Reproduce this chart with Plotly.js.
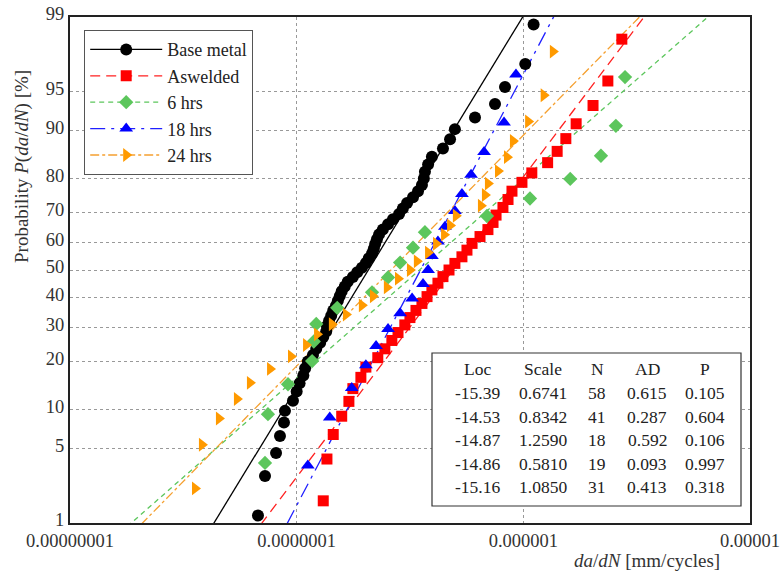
<!DOCTYPE html>
<html><head><meta charset="utf-8">
<script src="https://cdn.plot.ly/plotly-3.0.1.min.js"></script>
<style>html,body{margin:0;padding:0;background:#fff}#chart{width:781px;height:571px}</style>
</head><body><div id="chart"></div>
<script>
// ---- data (x: da/dN in mm/cycle, p: plotting probability in %) ----
const seriesNames = ["Base metal", "Aswelded", "6 hrs", "18 hrs", "24 hrs"];

const baseX = [6.75e-8,7.25e-8,8.11e-8,8.44e-8,8.79e-8,8.88e-8,9.63e-8,1.00e-7,1.03e-7,1.07e-7,
  1.09e-7,1.12e-7,1.18e-7,1.22e-7,1.27e-7,1.31e-7,1.35e-7,1.36e-7,1.39e-7,1.42e-7,
  1.45e-7,1.49e-7,1.52e-7,1.55e-7,1.58e-7,1.63e-7,1.68e-7,1.77e-7,1.85e-7,1.94e-7,
  2.02e-7,2.08e-7,2.15e-7,2.19e-7,2.22e-7,2.26e-7,2.31e-7,2.40e-7,2.53e-7,2.66e-7,
  2.83e-7,2.94e-7,3.07e-7,3.26e-7,3.43e-7,3.57e-7,3.64e-7,3.68e-7,3.80e-7,3.95e-7,
  4.42e-7,4.75e-7,4.99e-7,6.12e-7,7.50e-7,8.30e-7,1.02e-6,1.11e-6];
const baseP = [1.20,2.91,4.62,6.34,8.05,9.76,11.47,13.18,14.90,16.61,18.32,20.03,21.75,23.46,25.17,
  26.88,28.60,30.31,32.02,33.73,35.45,37.16,38.87,40.58,42.29,44.01,45.72,47.43,49.14,50.86,
  52.57,54.28,55.99,57.71,59.42,61.13,62.84,64.55,66.27,67.98,69.69,71.40,73.12,74.83,76.54,
  78.25,79.97,81.68,83.39,85.10,86.82,88.53,90.24,91.95,93.66,95.38,97.09,98.80];

const asweldedX = [1.31e-7,1.36e-7,1.45e-7,1.58e-7,1.70e-7,1.77e-7,1.92e-7,2.02e-7,2.28e-7,2.45e-7,
  2.63e-7,2.80e-7,3.00e-7,3.16e-7,3.36e-7,3.57e-7,3.76e-7,3.95e-7,4.20e-7,4.42e-7,
  4.70e-7,4.99e-7,5.36e-7,5.64e-7,5.94e-7,6.44e-7,6.98e-7,7.35e-7,7.58e-7,8.13e-7,
  8.56e-7,8.91e-7,9.86e-7,1.09e-6,1.28e-6,1.41e-6,1.54e-6,1.71e-6,2.03e-6,2.36e-6,2.72e-6];
const asweldedP = [1.69,4.11,6.52,8.94,11.35,13.77,16.18,18.60,21.01,23.43,25.85,28.26,30.68,33.09,
  35.51,37.92,40.34,42.75,45.17,47.58,50.00,52.42,54.83,57.25,59.66,62.08,64.49,66.91,69.32,
  71.74,74.15,76.57,78.99,81.40,83.82,86.23,88.65,91.06,93.48,95.89,98.31];

const hrs6X = [7.25e-8,7.47e-8,9.16e-8,1.17e-7,1.19e-7,1.22e-7,1.51e-7,2.15e-7,2.53e-7,2.86e-7,
  3.26e-7,3.68e-7,6.91e-7,1.07e-6,1.61e-6,2.20e-6,2.56e-6,2.81e-6];
const hrs6P = [3.80,9.24,14.67,20.11,25.54,30.98,36.41,41.85,47.28,52.72,58.15,63.59,69.02,74.46,
  79.89,85.33,90.76,96.20];

const hrs18X = [1.12e-7,1.40e-7,1.75e-7,2.02e-7,2.24e-7,2.53e-7,2.86e-7,3.23e-7,3.61e-7,3.80e-7,
  3.95e-7,4.20e-7,4.51e-7,4.99e-7,5.36e-7,5.88e-7,6.71e-7,8.22e-7,9.28e-7];
const hrs18P = [3.61,8.76,13.92,19.07,24.23,29.38,34.54,39.69,44.85,50.00,55.15,60.31,65.46,70.62,
  75.77,80.93,86.08,91.24,96.39];

const hrs24X = [3.56e-8,3.82e-8,4.54e-8,5.45e-8,6.22e-8,7.63e-8,9.44e-8,1.10e-7,1.23e-7,1.43e-7,
  1.65e-7,1.94e-7,2.17e-7,2.50e-7,2.80e-7,3.16e-7,3.39e-7,3.80e-7,4.12e-7,4.47e-7,
  4.75e-7,5.04e-7,6.50e-7,6.77e-7,6.98e-7,7.73e-7,8.47e-7,9.00e-7,1.05e-6,1.23e-6,1.35e-6];
const hrs24P = [2.23,5.41,8.60,11.78,14.97,18.15,21.34,24.52,27.71,30.89,34.08,37.26,40.45,43.63,
  46.82,50.00,53.18,56.37,59.55,62.74,65.92,69.11,72.29,75.48,78.66,81.85,85.03,88.22,91.40,
  94.59,97.77];

// fitted lognormal parameters (table)
const fitLoc = [-15.39, -14.53, -14.87, -14.86, -15.16];
const fitScale = [0.6741, 0.8342, 1.2590, 0.5810, 1.0850];
const tableHeader = ["Loc", "Scale", "N", "AD", "P"];
const colLoc = ["-15.39", "-14.53", "-14.87", "-14.86", "-15.16"];
const colScale = ["0.6741", "0.8342", "1.2590", "0.5810", "1.0850"];
const colN = ["58", "41", "18", "19", "31"];
const colAD = ["0.615", "0.287", "0.592", "0.093", "0.413"];
const colPval = ["0.105", "0.604", "0.106", "0.997", "0.318"];

// axis ticks
const probTicks = [1, 5, 10, 20, 30, 40, 50, 60, 70, 80, 90, 95, 99];
const xTickVals = [1e-8, 1e-7, 1e-6, 1e-5];
const xTickText = ["0.00000001", "0.0000001", "0.000001", "0.00001"];

// ---- styles ----
const colors = ["#000000", "#ff0000", "#5cc65c", "#0000ff", "#ff9a00"];
const lineColors = ["#000000", "#ff2020", "#5cc65c", "#2020ff", "#f5a030"];
const symbols = ["circle", "square", "diamond", "triangle-up", "triangle-right"];
const msizes = [12, 11, 11, 12, 12];
const dashes = ["solid", "10px,6px", "5px,4px", "longdashdot", "dashdot"];

// probability scale: inverse standard normal CDF (Acklam)
function norminv(p) {
  const a=[-3.969683028665376e+01,2.209460984245205e+02,-2.759285104469687e+02,1.383577518672690e+02,-3.066479806614716e+01,2.506628277459239e+00];
  const b=[-5.447609879822406e+01,1.615858368580409e+02,-1.556989798598866e+02,6.680131188771972e+01,-1.328068155288572e+01];
  const c=[-7.784894002430293e-03,-3.223964580411365e-01,-2.400758277161838e+00,-2.549732539343734e+00,4.374664141464968e+00,2.938163982698783e+00];
  const d=[7.784695709041462e-03,3.224671290700398e-01,2.445134137142996e+00,3.754408661907416e+00];
  const pl = 0.02425, ph = 1 - pl; let q, r;
  if (p < pl) { q = Math.sqrt(-2*Math.log(p)); return (((((c[0]*q+c[1])*q+c[2])*q+c[3])*q+c[4])*q+c[5])/((((d[0]*q+d[1])*q+d[2])*q+d[3])*q+1); }
  if (p <= ph) { q = p - 0.5; r = q*q; return (((((a[0]*r+a[1])*r+a[2])*r+a[3])*r+a[4])*r+a[5])*q/(((((b[0]*r+b[1])*r+b[2])*r+b[3])*r+b[4])*r+1); }
  q = Math.sqrt(-2*Math.log(1-p)); return -(((((c[0]*q+c[1])*q+c[2])*q+c[3])*q+c[4])*q+c[5])/((((d[0]*q+d[1])*q+d[2])*q+d[3])*q+1);
}
const zOf = pc => norminv(pc / 100);

const xs = [baseX, asweldedX, hrs6X, hrs18X, hrs24X];
const ps = [baseP, asweldedP, hrs6P, hrs18P, hrs24P];

const traces = [];
// fitted lines
for (let i = 0; i < 5; i++) {
  const zEnds = [zOf(0.5), zOf(99.5)];
  traces.push({
    type: "scatter", mode: "lines", showlegend: false, hoverinfo: "skip",
    x: zEnds.map(z => Math.exp(fitLoc[i] + z * fitScale[i])), y: zEnds,
    line: { color: lineColors[i], width: 1.3, dash: dashes[i] }
  });
}
// data points
for (let i = 0; i < 5; i++) {
  traces.push({
    type: "scatter", mode: "markers", showlegend: false,
    x: xs[i], y: ps[i].map(zOf), name: seriesNames[i],
    marker: { color: colors[i], symbol: symbols[i], size: msizes[i], line: { width: 0 } }
  });
}
// legend entries
for (let i = 0; i < 5; i++) {
  traces.push({
    type: "scatter", mode: "lines+markers", name: seriesNames[i],
    x: [null], y: [null],
    line: { color: lineColors[i], width: 1.3, dash: dashes[i] },
    marker: { color: colors[i], symbol: symbols[i], size: msizes[i] }
  });
}

const FONT = "Liberation Serif, Times New Roman, serif";
const L = 70, R = 750, T = 17, B = 523;
const px2x = p => (p - L) / (R - L);
const py2y = p => (B - p) / (B - T);

const annotations = [];
const colCenters = [477, 543, 597, 647, 705];
const rowYs = [369, 393, 417, 440, 464, 487];
const cols = [colLoc, colScale, colN, colAD, colPval];
for (let c = 0; c < 5; c++) {
  annotations.push({ xref: "paper", yref: "paper", x: px2x(colCenters[c]), y: py2y(rowYs[0]),
    text: tableHeader[c], showarrow: false, xanchor: "center", yanchor: "middle",
    font: { family: FONT, size: 17.5, color: "#222" } });
  for (let r = 0; r < 5; r++) {
    annotations.push({ xref: "paper", yref: "paper", x: px2x(colCenters[c]), y: py2y(rowYs[r + 1]),
      text: cols[c][r], showarrow: false, xanchor: "center", yanchor: "middle",
      font: { family: FONT, size: 17.5, color: "#222" } });
  }
}
annotations.push({ xref: "paper", yref: "paper", x: px2x(22), y: py2y(167), textangle: -90,
  text: "Probability <i>P</i>(<i>da</i>/<i>dN</i>) [%]", showarrow: false,
  xanchor: "center", yanchor: "middle", font: { family: FONT, size: 19, color: "#333" } });
annotations.push({ xref: "paper", yref: "paper", x: px2x(722), y: py2y(560),
  text: "<i>da</i>/<i>dN</i> [mm/cycles]", showarrow: false,
  xanchor: "right", yanchor: "middle", font: { family: FONT, size: 19, color: "#333" } });

const layout = {
  width: 781, height: 571,
  margin: { l: L, r: 781 - R, t: T, b: 571 - B },
  paper_bgcolor: "#fff", plot_bgcolor: "#fff",
  font: { family: FONT, size: 19, color: "#333" },
  showlegend: true,
  legend: { x: px2x(84), y: py2y(30), xanchor: "left", yanchor: "top",
    bgcolor: "#fff", bordercolor: "#555", borderwidth: 1.2,
    font: { family: FONT, size: 18, color: "#222" }, itemwidth: 72, tracegroupgap: 0 },
  xaxis: {
    type: "log", range: [-8, -5], tickvals: xTickVals, ticktext: xTickText,
    showgrid: true, gridcolor: "#999", griddash: "3px,3px", gridwidth: 1,
    showline: true, linecolor: "#222", linewidth: 2, mirror: true,
    ticks: "", zeroline: false,
    tickfont: { family: FONT, size: 18.5, color: "#333" }
  },
  yaxis: {
    range: [zOf(1), zOf(99)], tickvals: probTicks.map(zOf), ticktext: probTicks.map(String),
    showgrid: true, gridcolor: "#999", griddash: "3px,3px", gridwidth: 1,
    showline: true, linecolor: "#222", linewidth: 2, mirror: true,
    ticks: "", zeroline: false, ticklabelshift: -3,
    tickfont: { family: FONT, size: 18.5, color: "#333" }
  },
  shapes: [{ type: "rect", xref: "paper", yref: "paper", layer: "above",
    x0: px2x(432), x1: px2x(741), y0: py2y(506), y1: py2y(353),
    line: { color: "#333", width: 1.2 }, fillcolor: "#fff" }],
  annotations: annotations
};

Plotly.newPlot("chart", traces, layout, { displayModeBar: false, staticPlot: true });
</script>
</body></html>
